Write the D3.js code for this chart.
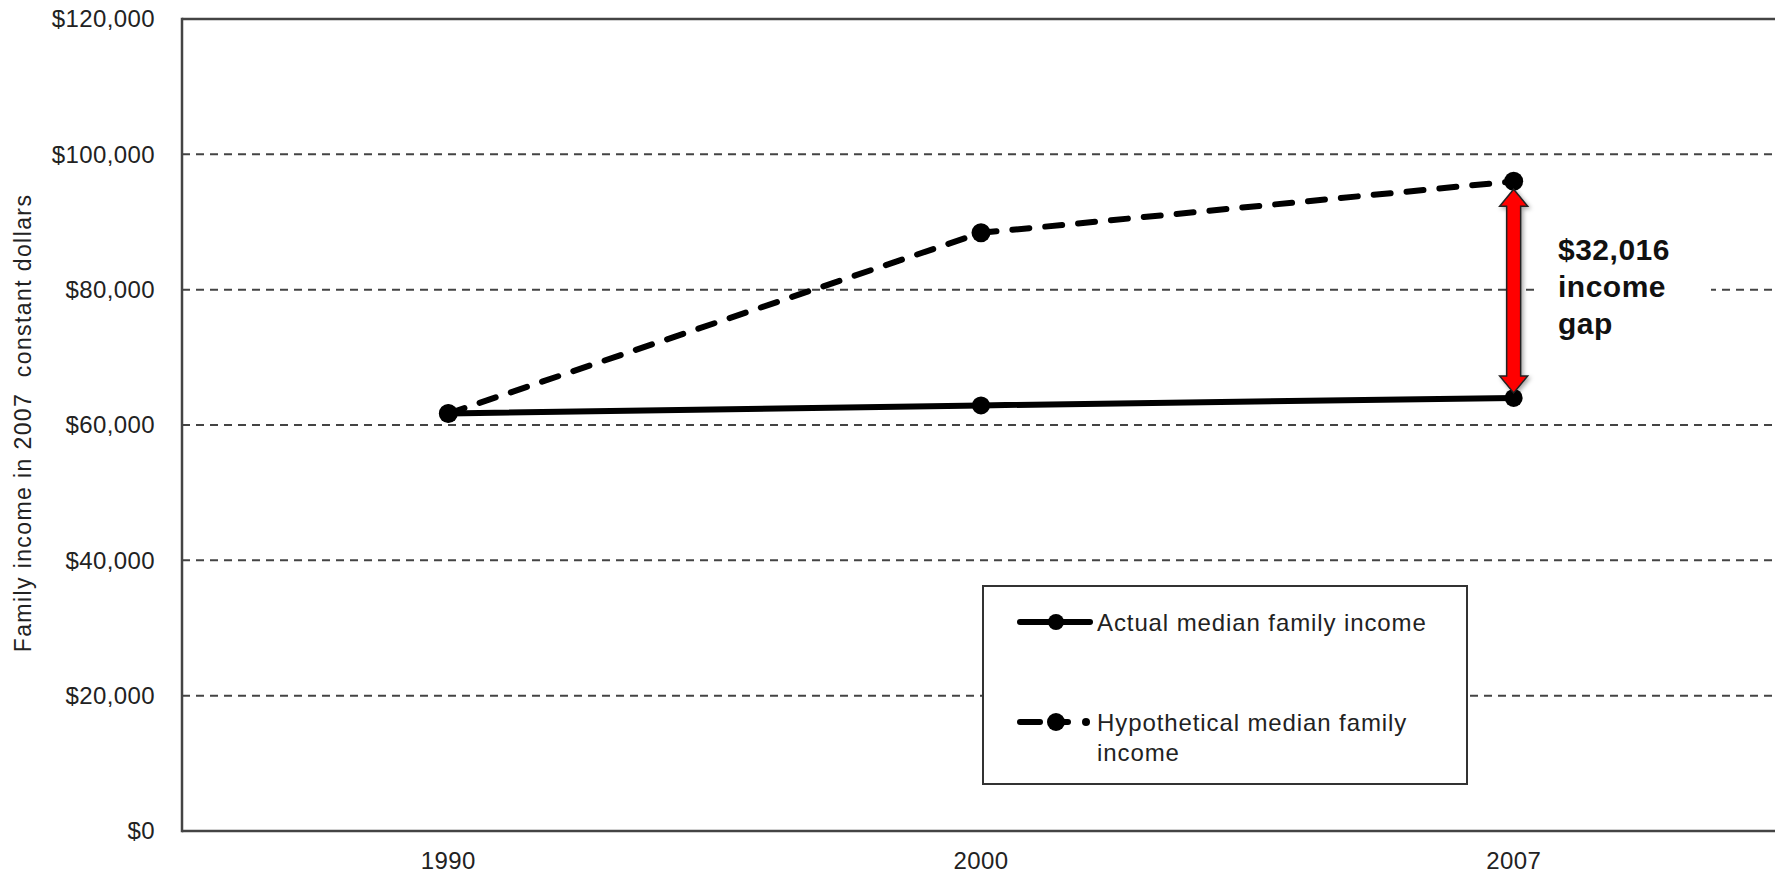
<!DOCTYPE html>
<html>
<head>
<meta charset="utf-8">
<script src="https://cdn.jsdelivr.net/npm/d3@7"></script>
<style>
  html, body { margin: 0; padding: 0; background: #fff; }
  svg { display: block; font-family: "Liberation Sans", Arial, sans-serif; }
</style>
</head>
<body>
<svg id="chart" width="1775" height="876"></svg>
<script>
// Median family income, 2007 constant dollars
const years = ["1990", "2000", "2007"];
const actualIncome = [61700, 62900, 64000];
const hypotheticalIncome = [61700, 88400, 96016];
const yTicks = [0, 20000, 40000, 60000, 80000, 100000, 120000];
const seriesNames = ["Actual median family income", "Hypothetical median family income"];

const svg = d3.select("#chart");
const W = 1775, H = 876;
const plot = { left: 182, right: 1780, top: 19, bottom: 831 };

const x = d3.scaleBand().domain(years).range([plot.left, plot.right]).padding(0);
const y = d3.scaleLinear().domain([0, 120000]).range([plot.bottom, plot.top]);
const cx = d => x(d) + x.bandwidth() / 2;

const fmtMoney = d3.format("$,");

// drop shadow for the gap arrow
const defs = svg.append("defs");
const f = defs.append("filter").attr("id", "shadow").attr("x", "-50%").attr("y", "-10%").attr("width", "200%").attr("height", "120%");
f.append("feDropShadow").attr("dx", 2).attr("dy", 2).attr("stdDeviation", 2).attr("flood-color", "#000").attr("flood-opacity", 0.35);

// horizontal gridlines
svg.append("g").selectAll("line")
  .data(yTicks.filter(t => t > 0 && t < 120000))
  .join("line")
  .attr("x1", plot.left).attr("x2", W)
  .attr("y1", d => y(d)).attr("y2", d => y(d))
  .attr("stroke", "#444").attr("stroke-width", 2)
  .attr("stroke-dasharray", "8,6");

// frame: top, left and bottom edges
const frame = svg.append("g").attr("stroke", "#444").attr("stroke-width", 2.5).attr("fill", "none");
frame.append("line").attr("x1", plot.left).attr("x2", W).attr("y1", y(120000)).attr("y2", y(120000));
frame.append("line").attr("x1", plot.left).attr("x2", W).attr("y1", y(0)).attr("y2", y(0));
frame.append("line").attr("x1", plot.left).attr("x2", plot.left).attr("y1", y(120000) - 1.25).attr("y2", y(0) + 1.25);

// y axis labels
const yAxis = d3.axisLeft(y).tickValues(yTicks).tickSize(0).tickPadding(27).tickFormat(fmtMoney);
svg.append("g").attr("transform", `translate(${plot.left},0)`).call(yAxis)
  .call(g => g.select(".domain").remove())
  .selectAll("text")
  .attr("font-size", 24).attr("letter-spacing", 0.4).attr("fill", "#222")
  .attr("font-family", "\"Liberation Sans\", Arial, sans-serif");

// x axis labels
const xAxis = d3.axisBottom(x).tickSize(0).tickPadding(21);
svg.append("g").attr("transform", `translate(0,${plot.bottom})`).call(xAxis)
  .call(g => g.select(".domain").remove())
  .selectAll("text")
  .attr("font-size", 24).attr("letter-spacing", 0.4).attr("fill", "#222")
  .attr("font-family", "\"Liberation Sans\", Arial, sans-serif");

// y axis title
svg.append("text")
  .attr("transform", `translate(31,${423}) rotate(-90)`)
  .attr("text-anchor", "middle")
  .attr("font-size", 23).attr("letter-spacing", 1.4).attr("fill", "#222")
  .attr("xml:space", "preserve")
  .text("Family income in 2007  constant dollars");

// series lines
const line = d3.line().x((d, i) => cx(years[i])).y(d => y(d));

svg.append("path").datum(actualIncome)
  .attr("d", line).attr("fill", "none")
  .attr("stroke", "#000").attr("stroke-width", 6).attr("stroke-linecap", "round");

svg.append("path").datum(hypotheticalIncome)
  .attr("d", line).attr("fill", "none")
  .attr("stroke", "#000").attr("stroke-width", 6).attr("stroke-linecap", "round")
  .attr("stroke-dasharray", "17,16");

// markers
svg.append("g").selectAll("circle").data(hypotheticalIncome).join("circle")
  .attr("cx", (d, i) => cx(years[i])).attr("cy", d => y(d)).attr("r", 9.5).attr("fill", "#000");
svg.append("g").selectAll("circle").data(actualIncome).join("circle")
  .attr("cx", (d, i) => cx(years[i])).attr("cy", d => y(d)).attr("r", 9).attr("fill", "#000");

// gap arrow at the last year
const last = years.length - 1;
const ax = cx(years[last]);
const yTop = y(hypotheticalIncome[last]) + 8;
const yBot = y(actualIncome[last]) - 5;
const sw = 7, hw = 14, hl = 17;
const arrow = d3.path();
arrow.moveTo(ax, yTop);
arrow.lineTo(ax + hw, yTop + hl);
arrow.lineTo(ax + sw, yTop + hl);
arrow.lineTo(ax + sw, yBot - hl);
arrow.lineTo(ax + hw, yBot - hl);
arrow.lineTo(ax, yBot);
arrow.lineTo(ax - hw, yBot - hl);
arrow.lineTo(ax - sw, yBot - hl);
arrow.lineTo(ax - sw, yTop + hl);
arrow.lineTo(ax - hw, yTop + hl);
arrow.closePath();
svg.append("path").attr("d", arrow.toString())
  .attr("fill", "#ff0000").attr("stroke", "#222").attr("stroke-width", 1.5)
  .attr("stroke-linejoin", "miter")
  .attr("filter", "url(#shadow)");

// gap annotation
const gap = hypotheticalIncome[last] - actualIncome[last];
svg.append("rect").attr("x", 1535).attr("y", 228).attr("width", 176).attr("height", 118).attr("fill", "#fff");
const note = svg.append("text").attr("x", 1558).attr("font-size", 30).attr("letter-spacing", 0.5)
  .attr("font-weight", "bold").attr("fill", "#111");
[fmtMoney(gap), "income", "gap"].forEach((t, i) => {
  note.append("tspan").attr("x", 1558).attr("y", 260 + i * 37).text(t);
});

// legend
const lg = svg.append("g");
lg.append("rect").attr("x", 983).attr("y", 586).attr("width", 484).attr("height", 198)
  .attr("fill", "#fff").attr("stroke", "#333").attr("stroke-width", 2);

// solid sample
lg.append("line").attr("x1", 1020).attr("x2", 1090).attr("y1", 622).attr("y2", 622)
  .attr("stroke", "#000").attr("stroke-width", 6).attr("stroke-linecap", "round");
lg.append("circle").attr("cx", 1056).attr("cy", 622).attr("r", 8).attr("fill", "#000");
lg.append("text").attr("x", 1097).attr("y", 631).attr("font-size", 24).attr("letter-spacing", 0.9)
  .attr("fill", "#222").text(seriesNames[0]);

// dashed sample
lg.append("line").attr("x1", 1020).attr("x2", 1040).attr("y1", 722).attr("y2", 722)
  .attr("stroke", "#000").attr("stroke-width", 6).attr("stroke-linecap", "round");
lg.append("line").attr("x1", 1060).attr("x2", 1068).attr("y1", 722).attr("y2", 722)
  .attr("stroke", "#000").attr("stroke-width", 6).attr("stroke-linecap", "round");
lg.append("circle").attr("cx", 1056).attr("cy", 722).attr("r", 9).attr("fill", "#000");
lg.append("circle").attr("cx", 1086).attr("cy", 722).attr("r", 4).attr("fill", "#000");
const lt = lg.append("text").attr("font-size", 24).attr("letter-spacing", 0.9).attr("fill", "#222");
lt.append("tspan").attr("x", 1097).attr("y", 731).text("Hypothetical median family");
lt.append("tspan").attr("x", 1097).attr("y", 761).text("income");
</script>
</body>
</html>
